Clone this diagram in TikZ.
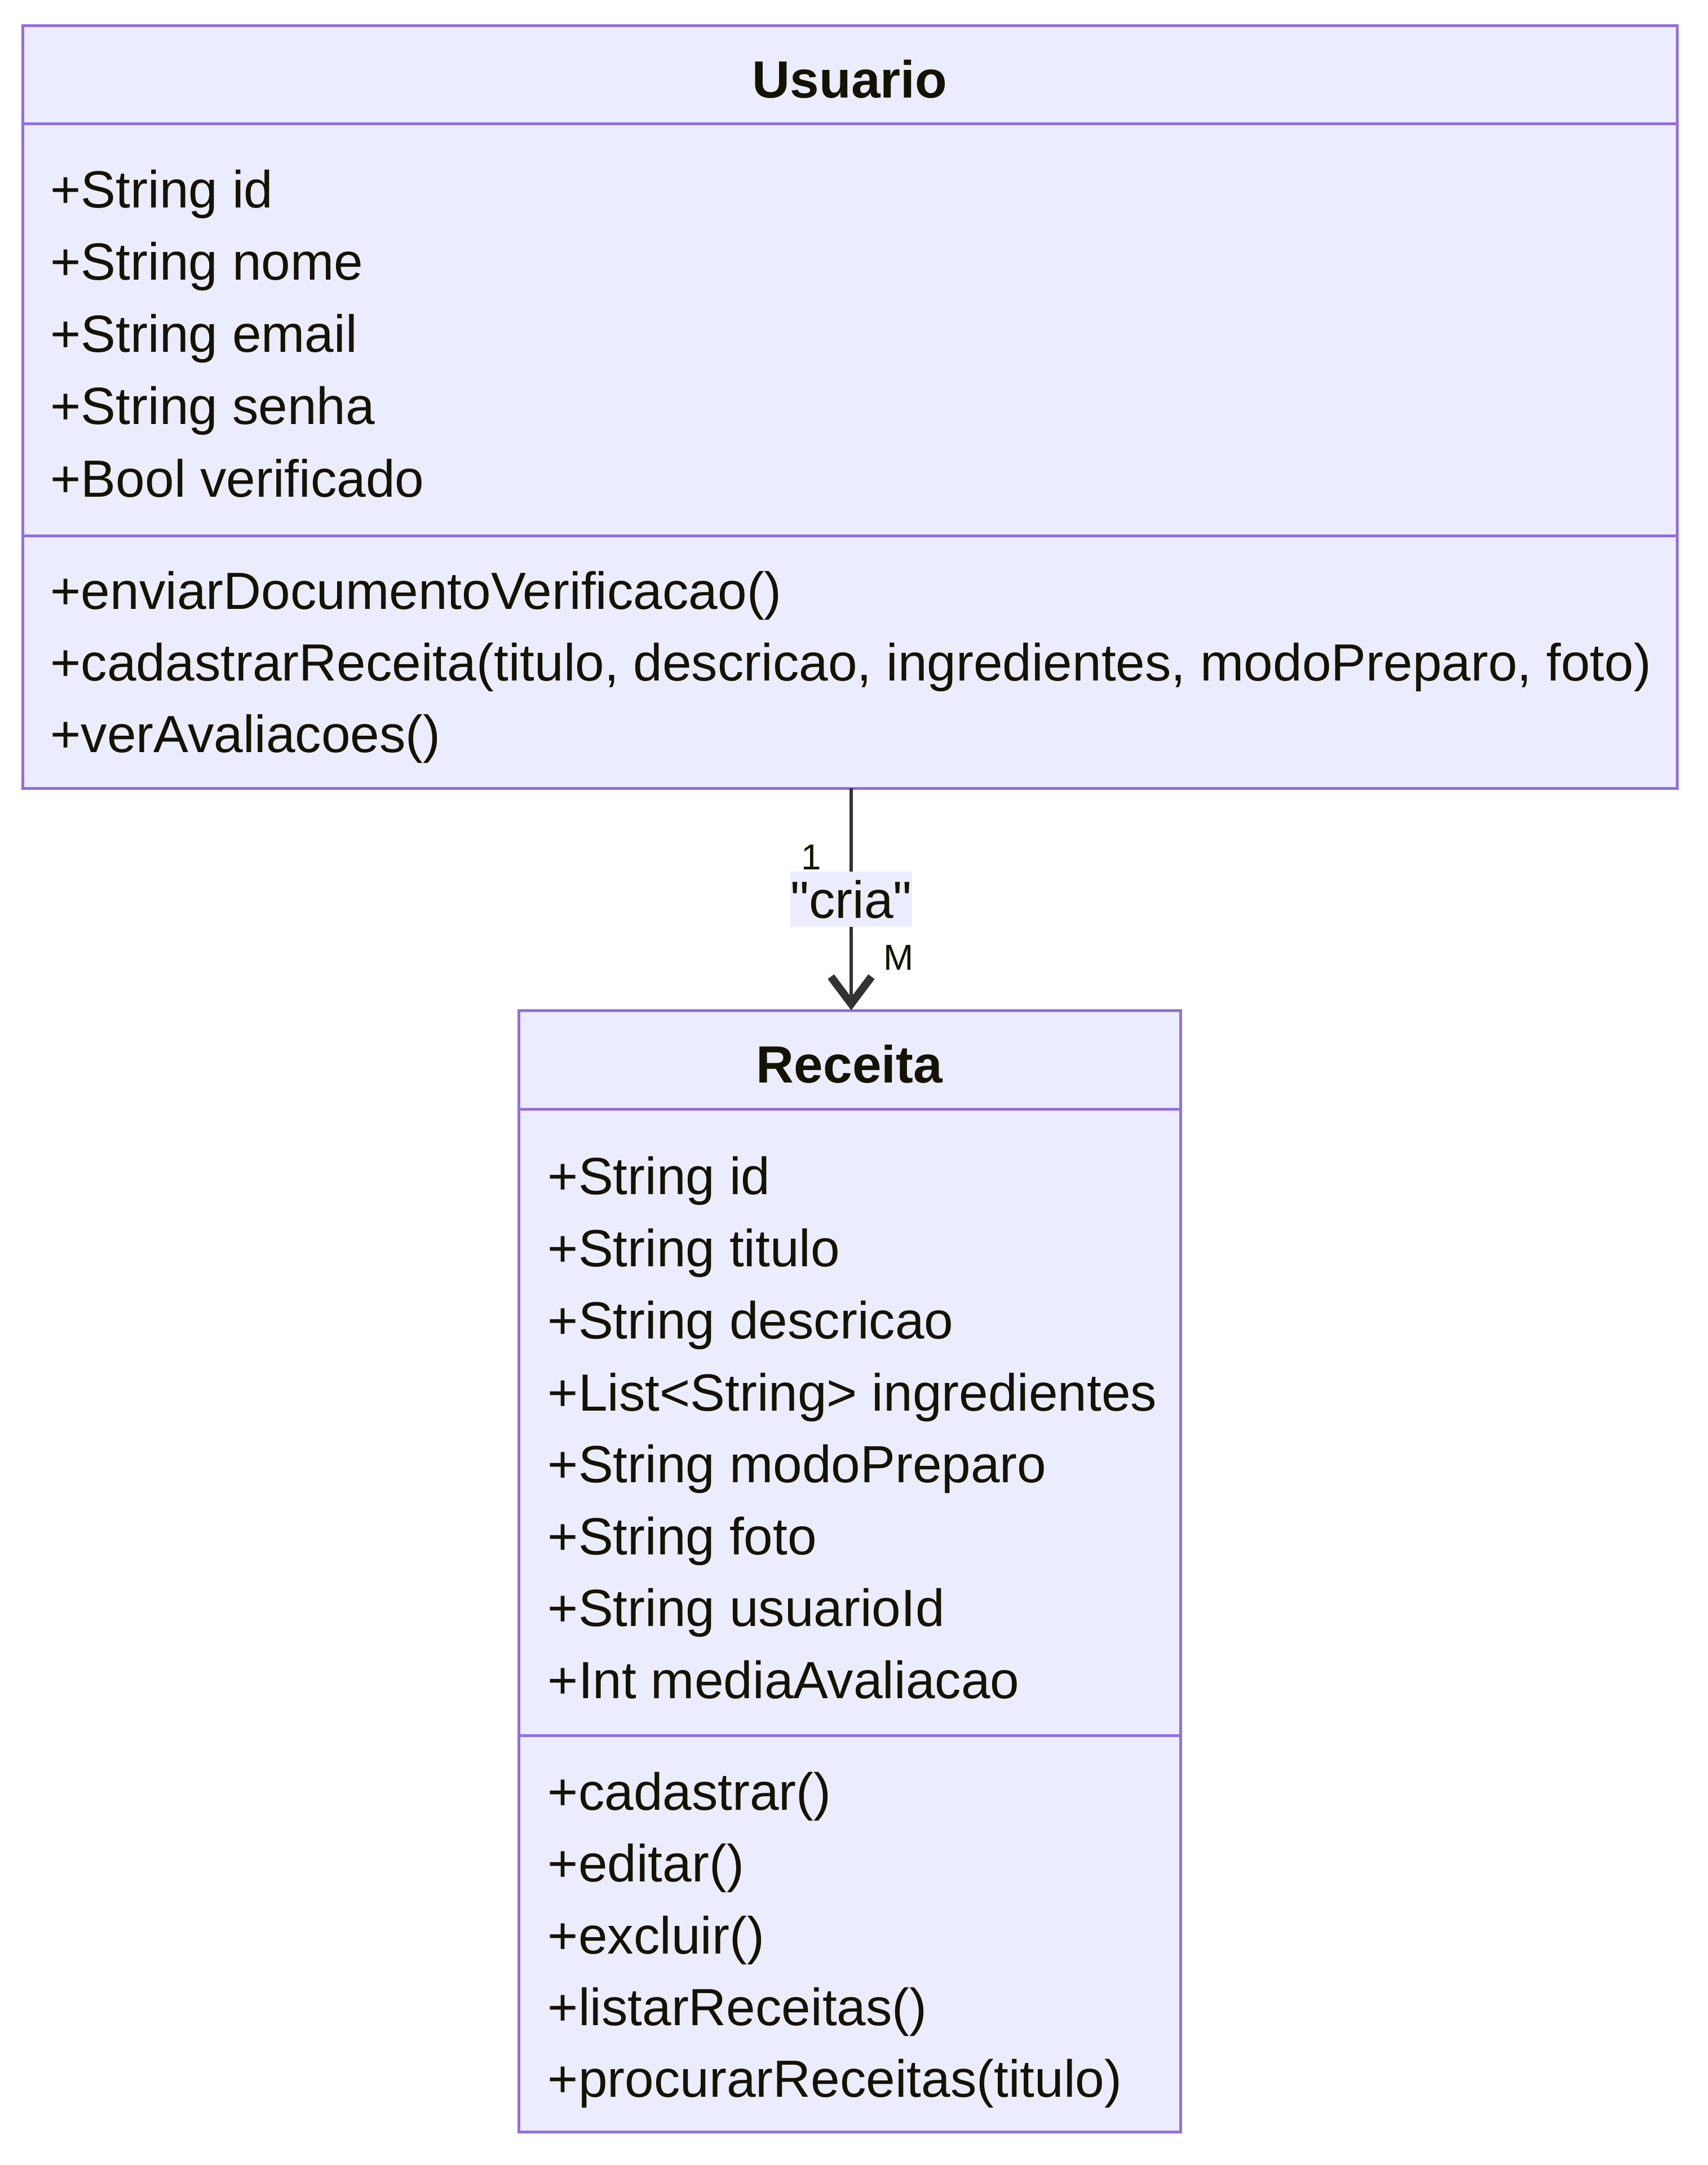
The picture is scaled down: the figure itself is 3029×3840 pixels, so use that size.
\documentclass[tikz,border=0pt]{standalone}
\usepackage{fontspec}
\setmainfont[Ligatures=TeXOff]{Liberation Sans}
\usetikzlibrary{arrows.meta}
\definecolor{boxfill}{HTML}{ECECFF}
\definecolor{boxline}{HTML}{9370DB}
\definecolor{txt}{HTML}{131300}
\definecolor{edgec}{HTML}{333333}
\begin{document}
\begin{tikzpicture}[x=0.25pt,y=-0.25pt,
  classbox/.style={draw=boxline, fill=boxfill, line width=1.25pt, inner sep=0pt, outer sep=0pt, rectangle},
  divider/.style={draw=boxline, line width=1.25pt},
  member/.style={anchor=base west, text=txt, inner sep=0pt, font=\fontsize{23.2}{28}\selectfont},
  classtitle/.style={anchor=base, text=txt, inner sep=0pt, font=\bfseries\fontsize{23.2}{28}\selectfont},
  conn/.style={draw=edgec, line width=1.5pt, -{Straight Barb[length=12pt, width=18pt, line width=3.5pt]}},
  edgelabel/.style={fill=boxfill, text=txt, inner sep=0pt, minimum width=53.5pt, minimum height=24.5pt, font=\fontsize{23.2}{28}\selectfont},
  multlabel/.style={text=txt, inner sep=0pt, font=\fontsize{16}{19}\selectfont}
]
\useasboundingbox (0,0) rectangle (3029,3840);

% Usuario
\node[classbox, minimum width=733.75pt, minimum height=338pt] (U) at (1507.5,722) {};
\draw[divider] (40,220) -- (2975,220);
\draw[divider] (40,950) -- (2975,950);
\node[classtitle] (Ut) at (1507.5,174) {Usuario};
\node[member] (ua1) at (89,369) {+String id};
\node[member] (ua2) at (89,497) {+String nome};
\node[member] (ua3) at (89,625) {+String email};
\node[member] (ua4) at (89,753) {+String senha};
\node[member] (ua5) at (89,881) {+Bool verificado};
\node[member] (um1) at (89,1080) {+enviarDocumentoVerificacao()};
\node[member] (um2) at (89,1207) {+cadastrarReceita(titulo, descricao, ingredientes, modoPreparo, foto)};
\node[member] (um3) at (89,1334) {+verAvaliacoes()};

% Receita
\node[classbox, minimum width=293.5pt, minimum height=497.25pt] (R) at (1507,2786.5) {};
\draw[divider] (920,1967) -- (2094,1967);
\draw[divider] (920,3078) -- (2094,3078);
\node[classtitle] (Rt) at (1507,1920) {Receita};
\node[member] (ra1) at (971,2118) {+String id};
\node[member] (ra2) at (971,2246) {+String titulo};
\node[member] (ra3) at (971,2374) {+String descricao};
\node[member] (ra4) at (971,2502) {+List<String> ingredientes};
\node[member] (ra5) at (971,2629) {+String modoPreparo};
\node[member] (ra6) at (971,2757) {+String foto};
\node[member] (ra7) at (971,2884) {+String usuarioId};
\node[member] (ra8) at (971,3012) {+Int mediaAvaliacao};
\node[member] (rm1) at (971,3210) {+cadastrar()};
\node[member] (rm2) at (971,3337) {+editar()};
\node[member] (rm3) at (971,3465) {+excluir()};
\node[member] (rm4) at (971,3592) {+listarReceitas()};
\node[member] (rm5) at (971,3719) {+procurarReceitas(titulo)};

% connector
\coordinate (Ubot) at (1510,1398);
\coordinate (Rtop) at (1510,1792);
\draw[conn] (Ubot) -- (Rtop) node[midway, edgelabel] (lbl) {"cria"};
\node[multlabel] (m1) at (1439,1520) {1};
\node[multlabel] (m2) at (1594,1698) {M};
\end{tikzpicture}
\end{document}
